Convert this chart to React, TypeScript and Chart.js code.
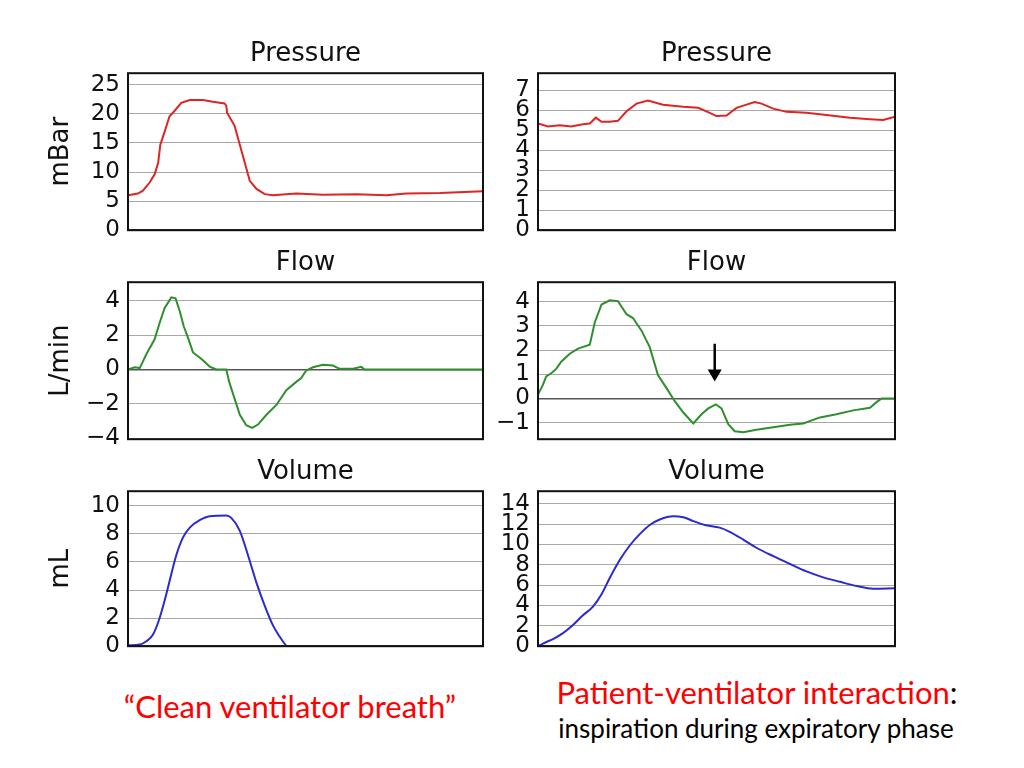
import React, { useEffect, useRef } from 'react';
import { Chart, registerables } from 'chart.js';

Chart.register(...registerables);

// ---------- DATA ----------
// Left column: "Clean ventilator breath"
const cleanPressureTime = [0, 2.8, 4.2, 6.1, 7.5, 8.5, 9.1, 10.3, 11.7, 13.1, 15.0, 17.4, 21.1, 23.9, 27.2, 27.7, 27.9, 30.0, 31.5, 32.9, 34.3, 36.2, 38.5, 40.8, 47.4, 54.9, 64.3, 72.8, 78.4, 87.8, 100];
const cleanPressure = [6.0, 6.3, 6.8, 8.2, 9.6, 11.6, 14.7, 16.9, 19.6, 20.5, 21.9, 22.4, 22.4, 22.1, 21.8, 21.4, 20.2, 18.0, 14.7, 11.6, 8.5, 7.1, 6.2, 6.0, 6.3, 6.1, 6.2, 6.0, 6.3, 6.4, 6.7];

const cleanFlowTime = [0, 1.9, 3.3, 5.2, 7.5, 8.9, 10.3, 12.2, 13.4, 14.6, 15.7, 16.9, 18.3, 20.7, 23.0, 24.9, 27.7, 28.5, 30.0, 31.5, 33.3, 35.0, 36.6, 39.0, 41.8, 44.6, 47.4, 48.8, 50.2, 52.1, 54.9, 57.7, 59.6, 63.4, 65.7, 66.7, 100];
const cleanFlow = [0, 0.13, 0.08, 0.9, 1.75, 2.7, 3.56, 4.19, 4.13, 3.37, 2.51, 1.85, 0.99, 0.61, 0.17, 0, 0, -0.72, -1.68, -2.63, -3.24, -3.39, -3.2, -2.63, -2.06, -1.2, -0.72, -0.5, -0.06, 0.13, 0.27, 0.23, 0.04, 0.04, 0.15, 0, 0];

const cleanVolumeTime = [0, 3.3, 5.2, 7.0, 8.7, 10.3, 11.7, 13.6, 15.5, 17.4, 20.2, 23.0, 27.7, 29.1, 31.5, 33.8, 36.2, 38.5, 40.8, 42.7, 44.6];
const cleanVolume = [0.07, 0.12, 0.35, 0.81, 1.85, 3.24, 4.63, 6.48, 7.75, 8.45, 8.98, 9.26, 9.31, 9.14, 8.22, 6.48, 4.51, 2.89, 1.5, 0.69, 0];

// Right column: "Patient-ventilator interaction"
const patientPressureTime = [0, 2.8, 6.1, 9.3, 12.6, 14.5, 16.2, 17.8, 20.1, 22.4, 24.8, 27.6, 30.8, 35.0, 40.7, 44.9, 48.1, 50.0, 52.8, 55.6, 58.4, 60.7, 62.6, 65.9, 69.6, 75.2, 80.8, 87.4, 93.0, 96.7, 100];
const patientPressure = [5.33, 5.18, 5.24, 5.18, 5.29, 5.33, 5.62, 5.41, 5.41, 5.46, 5.94, 6.32, 6.47, 6.27, 6.16, 6.11, 5.86, 5.70, 5.73, 6.11, 6.27, 6.40, 6.32, 6.07, 5.91, 5.86, 5.75, 5.62, 5.54, 5.50, 5.67];

const patientFlowTime = [0, 1.4, 2.3, 3.7, 5.1, 6.5, 8.9, 11.2, 14.5, 15.9, 17.8, 20.1, 22.4, 24.8, 26.6, 29.0, 31.3, 33.6, 36.0, 38.3, 40.7, 43.5, 45.8, 47.7, 49.8, 51.4, 53.3, 55.1, 57.5, 61.2, 65.9, 70.6, 74.3, 79.0, 83.6, 88.3, 93.0, 94.9, 96.3, 100];
const patientFlow = [0.16, 0.57, 0.91, 1.04, 1.22, 1.52, 1.85, 2.06, 2.22, 3.14, 3.88, 4.05, 4.02, 3.48, 3.32, 2.8, 2.12, 0.97, 0.43, -0.11, -0.58, -1.03, -0.65, -0.41, -0.24, -0.41, -1.06, -1.35, -1.39, -1.29, -1.19, -1.08, -1.03, -0.78, -0.65, -0.49, -0.38, -0.14, 0, 0];

const patientVolumeTime = [0, 1.4, 4.2, 7.0, 9.8, 12.6, 15.4, 17.8, 20.1, 22.9, 25.7, 28.5, 31.3, 34.1, 37.9, 40.7, 43.5, 46.7, 50.9, 53.7, 57.5, 61.2, 65.9, 70.6, 75.2, 79.9, 84.6, 89.3, 93.9, 100];
const patientVolume = [0, 0.26, 0.7, 1.28, 2.08, 3.04, 3.9, 5.11, 6.71, 8.47, 9.9, 11.02, 11.92, 12.46, 12.78, 12.68, 12.3, 11.92, 11.66, 11.25, 10.48, 9.68, 8.85, 8.08, 7.35, 6.77, 6.33, 5.91, 5.65, 5.69];

// Tick labels
const cleanPressureTicks = [0, 5, 10, 15, 20, 25];
const patientPressureTicks = [0, 1, 2, 3, 4, 5, 6, 7];
const cleanFlowTicks = [-4, -2, 0, 2, 4];
const patientFlowTicks = [-1, 0, 1, 2, 3, 4];
const cleanVolumeTicks = [0, 2, 4, 6, 8, 10];
const patientVolumeTicks = [0, 2, 4, 6, 8, 10, 12, 14];

// Panel titles / axis titles
const panelTitles = ['Pressure', 'Flow', 'Volume'];
const unitTitles = ['mBar', 'L/min', 'mL'];

// Arrow annotation (data units) on patient flow panel
const arrowAt = { x: 49.5, from: 2.26, to: 0.7 };

// ---------- STYLE / LAYOUT ----------
const TICK_FONT = { family: 'DejaVu Sans', size: 23, weight: 'normal' as const };
const TITLE_FONT = { family: 'DejaVu Sans', size: 26, weight: 'normal' as const };
const TITLE_PAD_BOTTOM = 3;
const TITLE_BOX = 34;
const BOTTOM_PAD = 18;
const RIGHT_PAD = 4;

const framePlugin = {
  id: 'frame',
  afterDraw(chart: any) {
    const { ctx, chartArea: a } = chart;
    ctx.save();
    ctx.strokeStyle = '#111';
    ctx.lineWidth = 2;
    ctx.strokeRect(a.left, a.top, a.right - a.left, a.bottom - a.top);
    ctx.restore();
  },
};

const arrowPlugin = {
  id: 'arrow',
  afterDatasetsDraw(chart: any, _args: any, opts: any) {
    if (!opts || !opts.enabled) return;
    const { ctx } = chart;
    const x = chart.scales.x.getPixelForValue(opts.x);
    const y1 = chart.scales.y.getPixelForValue(opts.from);
    const y2 = chart.scales.y.getPixelForValue(opts.to);
    const headLen = 12;
    const headW = 7;
    ctx.save();
    ctx.strokeStyle = '#000';
    ctx.fillStyle = '#000';
    ctx.lineWidth = 2.5;
    ctx.beginPath();
    ctx.moveTo(x, y1);
    ctx.lineTo(x, y2 - headLen + 1);
    ctx.stroke();
    ctx.beginPath();
    ctx.moveTo(x - headW, y2 - headLen);
    ctx.lineTo(x + headW, y2 - headLen);
    ctx.lineTo(x, y2);
    ctx.closePath();
    ctx.fill();
    ctx.restore();
  },
};

const fmt = (v: number) => (v < 0 ? '\u2212' + Math.abs(v) : String(v));

type PanelProps = {
  plotLeft: number;
  plotTop: number;
  plotW: number;
  plotH: number;
  axisW: number;
  title: string;
  yTitle?: string;
  xs: number[];
  ys: number[];
  ticks: number[];
  yMin: number;
  yMax: number;
  color: string;
  smooth?: boolean;
  arrow?: { x: number; from: number; to: number };
};

function Panel(p: PanelProps) {
  const ref = useRef<HTMLCanvasElement | null>(null);
  const width = p.axisW + p.plotW + RIGHT_PAD;
  const height = TITLE_BOX + p.plotH + BOTTOM_PAD;

  useEffect(() => {
    const data = p.xs.map((x, i) => ({ x, y: p.ys[i] }));
    const chart = new Chart(ref.current as HTMLCanvasElement, {
      type: 'line',
      data: {
        datasets: [
          {
            data,
            borderColor: p.color,
            borderWidth: 2,
            pointRadius: 0,
            fill: false,
            tension: p.smooth ? 0.4 : 0,
            cubicInterpolationMode: p.smooth ? 'monotone' : 'default',
          } as any,
        ],
      },
      options: {
        responsive: false,
        animation: false,
        layout: { padding: { left: 0, top: 0, right: RIGHT_PAD, bottom: BOTTOM_PAD } },
        plugins: {
          legend: { display: false },
          tooltip: { enabled: false },
          title: {
            display: true,
            text: p.title,
            font: TITLE_FONT,
            color: '#111',
            padding: { top: 0, bottom: TITLE_PAD_BOTTOM },
            fullSize: false,
          },
          arrow: p.arrow ? { enabled: true, ...p.arrow } : { enabled: false },
        } as any,
        scales: {
          x: { type: 'linear', display: false, min: 0, max: 100 },
          y: {
            type: 'linear',
            min: p.yMin,
            max: p.yMax,
            afterFit: (s: any) => {
              s.width = p.axisW;
            },
            afterBuildTicks: (s: any) => {
              s.ticks = p.ticks.map((v) => ({ value: v }));
            },
            border: { display: false },
            grid: {
              drawTicks: false,
              color: (c: any) => (c.tick && c.tick.value === 0 ? '#555' : '#a8a8a8'),
              lineWidth: (c: any) => (c.tick && c.tick.value === 0 ? 1.5 : 1),
            },
            ticks: {
              autoSkip: false,
              font: TICK_FONT,
              color: '#111',
              padding: 8,
              callback: (v: any) => fmt(Number(v)),
            },
            title: {
              display: !!p.yTitle,
              text: p.yTitle || '',
              font: TITLE_FONT,
              color: '#111',
              padding: { top: 8, bottom: 0 },
            },
          },
        },
      },
      plugins: [framePlugin, arrowPlugin],
    });
    return () => chart.destroy();
  }, []);

  return (
    <canvas
      ref={ref}
      width={width}
      height={height}
      style={{
        position: 'absolute',
        left: p.plotLeft - p.axisW,
        top: p.plotTop - TITLE_BOX,
        width,
        height,
      }}
    />
  );
}

const LEFT_X = 128;
const LEFT_W = 355;
const RIGHT_X = 538;
const RIGHT_W = 357;
const ROW_TOPS = [73, 282, 491];
const ROW_HS = [161, 161, 159];

const RED = '#e02424';
const GREEN = '#2f8f2f';
const BLUE = '#2a2ad0';

export default function App() {
  return (
    <div
      style={{
        position: 'absolute',
        left: 0,
        top: 0,
        width: 1024,
        height: 768,
        background: '#fff',
        overflow: 'hidden',
      }}
    >
      <Panel plotLeft={LEFT_X} plotTop={ROW_TOPS[0]} plotW={LEFT_W} plotH={ROW_HS[0]} axisW={90}
        title={panelTitles[0]} yTitle={unitTitles[0]} xs={cleanPressureTime} ys={cleanPressure}
        ticks={cleanPressureTicks} yMin={0} yMax={27} color={RED} />
      <Panel plotLeft={RIGHT_X} plotTop={ROW_TOPS[0]} plotW={RIGHT_W} plotH={ROW_HS[0]} axisW={56}
        title={panelTitles[0]} xs={patientPressureTime} ys={patientPressure}
        ticks={patientPressureTicks} yMin={0} yMax={7.84} color={RED} />
      <Panel plotLeft={LEFT_X} plotTop={ROW_TOPS[1]} plotW={LEFT_W} plotH={ROW_HS[1]} axisW={90}
        title={panelTitles[1]} yTitle={unitTitles[1]} xs={cleanFlowTime} ys={cleanFlow}
        ticks={cleanFlowTicks} yMin={-4.05} yMax={5.07} color={GREEN} />
      <Panel plotLeft={RIGHT_X} plotTop={ROW_TOPS[1]} plotW={RIGHT_W} plotH={ROW_HS[1]} axisW={56}
        title={panelTitles[1]} xs={patientFlowTime} ys={patientFlow}
        ticks={patientFlowTicks} yMin={-1.68} yMax={4.8} color={GREEN} arrow={arrowAt} />
      <Panel plotLeft={LEFT_X} plotTop={ROW_TOPS[2]} plotW={LEFT_W} plotH={ROW_HS[2]} axisW={90}
        title={panelTitles[2]} yTitle={unitTitles[2]} xs={cleanVolumeTime} ys={cleanVolume}
        ticks={cleanVolumeTicks} yMin={0} yMax={11.04} color={BLUE} smooth />
      <Panel plotLeft={RIGHT_X} plotTop={ROW_TOPS[2]} plotW={RIGHT_W} plotH={ROW_HS[2]} axisW={56}
        title={panelTitles[2]} xs={patientVolumeTime} ys={patientVolume}
        ticks={patientVolumeTicks} yMin={0} yMax={15.24} color={BLUE} smooth />

      <div style={{
        position: 'absolute', left: 290, top: 706, transform: 'translate(-50%, -50%)',
        whiteSpace: 'nowrap', fontFamily: 'Lato', fontSize: 31, lineHeight: 1, color: '#ff0000',
      }}>
        “Clean ventilator breath”
      </div>
      <div style={{
        position: 'absolute', left: 757, top: 692, transform: 'translate(-50%, -50%)',
        whiteSpace: 'nowrap', fontFamily: 'Lato', fontSize: 31, lineHeight: 1, color: '#ff0000',
      }}>
        Patient-ventilator interaction<span style={{ color: '#000' }}>:</span>
      </div>
      <div style={{
        position: 'absolute', left: 756, top: 728, transform: 'translate(-50%, -50%)',
        whiteSpace: 'nowrap', fontFamily: 'Lato', fontSize: 26, lineHeight: 1, color: '#000',
      }}>
        inspiration during expiratory phase
      </div>
    </div>
  );
}
